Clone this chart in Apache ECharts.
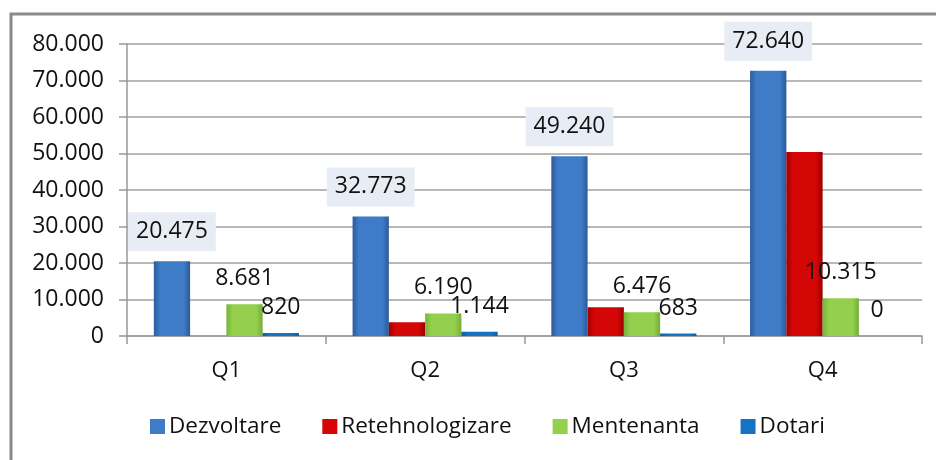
<!DOCTYPE html>
<html><head><meta charset="utf-8">
<script src="https://cdn.jsdelivr.net/npm/echarts@6/dist/echarts.min.js"></script>
<style>html,body{margin:0;padding:0;background:#fff}#c{width:936px;height:460px}</style>
</head><body><div id="c"></div>
<script>
const categories = ['Q1','Q2','Q3','Q4'];
const seriesNames = ['Dezvoltare','Retehnologizare','Mentenanta','Dotari'];
const dezvoltare = [20475, 32773, 49240, 72640];
const retehnologizare = [0, 3800, 7900, 50400];
const mentenanta = [8681, 6190, 6476, 10315];
const dotari = [820, 1144, 683, 0];
const yTicks = [0, 10000, 20000, 30000, 40000, 50000, 60000, 70000, 80000];

const FONT = 'Open Sans';
function fmt(v){ return String(Math.round(v)).replace(/\B(?=(\d{3})+(?!\d))/g,'.'); }
function grad(edgeL, mid, edgeR){
  return new echarts.graphic.LinearGradient(0,0,1,0,[
    {offset:0,color:edgeL},{offset:0.18,color:mid},{offset:0.82,color:mid},{offset:1,color:edgeR}]);
}
const colors = [
  grad('#2b5c9c','#3f7cc8','#2a5a98'),
  grad('#a00000','#d40606','#9a0000'),
  grad('#79b33a','#94d04e','#74ad36'),
  grad('#0a5ea8','#1673c4','#0a5ea8')
];
const legendColors = ['#3f7cc8','#d40606','#94d04e','#1673c4'];
const plainLabel = {show:true, position:'top', distance:14, color:'#111', fontFamily:FONT, fontSize:23,
  formatter:p=>fmt(p.value)};

const chart = echarts.init(document.getElementById('c'), null, {renderer:'canvas'});
chart.setOption({
  animation:false,
  textStyle:{fontFamily:FONT},
  graphic:[{type:'rect', shape:{x:11,y:14,width:1200,height:1200}, style:{fill:'none', stroke:'#8a8a8a', lineWidth:3}, silent:true}],
  grid:{left:127, right:14, top:44, bottom:124, containLabel:false},
  legend:{left:145, top:410, itemWidth:15, itemHeight:15, itemGap:41,
    textStyle:{fontFamily:FONT, fontSize:22.5, color:'#111', padding:[0,0,0,-1]},
    data:seriesNames.map((n,i)=>({name:n, icon:'rect', itemStyle:{color:legendColors[i]}}))},
  xAxis:{type:'category', data:categories,
    axisLine:{lineStyle:{color:'#999', width:1.5}},
    axisTick:{show:true, length:8, lineStyle:{color:'#999', width:1.5}},
    axisLabel:{fontFamily:FONT, fontSize:22, color:'#111', margin:24}},
  yAxis:{type:'value', min:0, max:80000, interval:10000,
    axisLine:{show:true, lineStyle:{color:'#999', width:1.5}},
    axisTick:{show:true, length:8, lineStyle:{color:'#999', width:1.5}},
    splitLine:{lineStyle:{color:'#a0a0a0', width:1.5}},
    axisLabel:{fontFamily:FONT, fontSize:23, color:'#111', margin:23,
      formatter:v=>yTicks.includes(v)?fmt(v):''}},
  series:[
    {name:seriesNames[0], type:'bar', data:dezvoltare, barGap:'0%', barCategoryGap:'27%',
      itemStyle:{color:colors[0]},
      label:{show:true, position:'top', distance:10, color:'#111', fontFamily:FONT, fontSize:23,
        backgroundColor:'#e8edf5', padding:[5,8], lineHeight:29, formatter:p=>fmt(p.value)}},
    {name:seriesNames[1], type:'bar', data:retehnologizare, barGap:'0%', barCategoryGap:'27%',
      itemStyle:{color:colors[1]}, label:{show:false}},
    {name:seriesNames[2], type:'bar', data:mentenanta, barGap:'0%', barCategoryGap:'27%',
      itemStyle:{color:colors[2]}, label:plainLabel},
    {name:seriesNames[3], type:'bar', data:dotari, barGap:'0%', barCategoryGap:'27%',
      itemStyle:{color:colors[3]}, label:plainLabel}
  ]
});
</script></body></html>
